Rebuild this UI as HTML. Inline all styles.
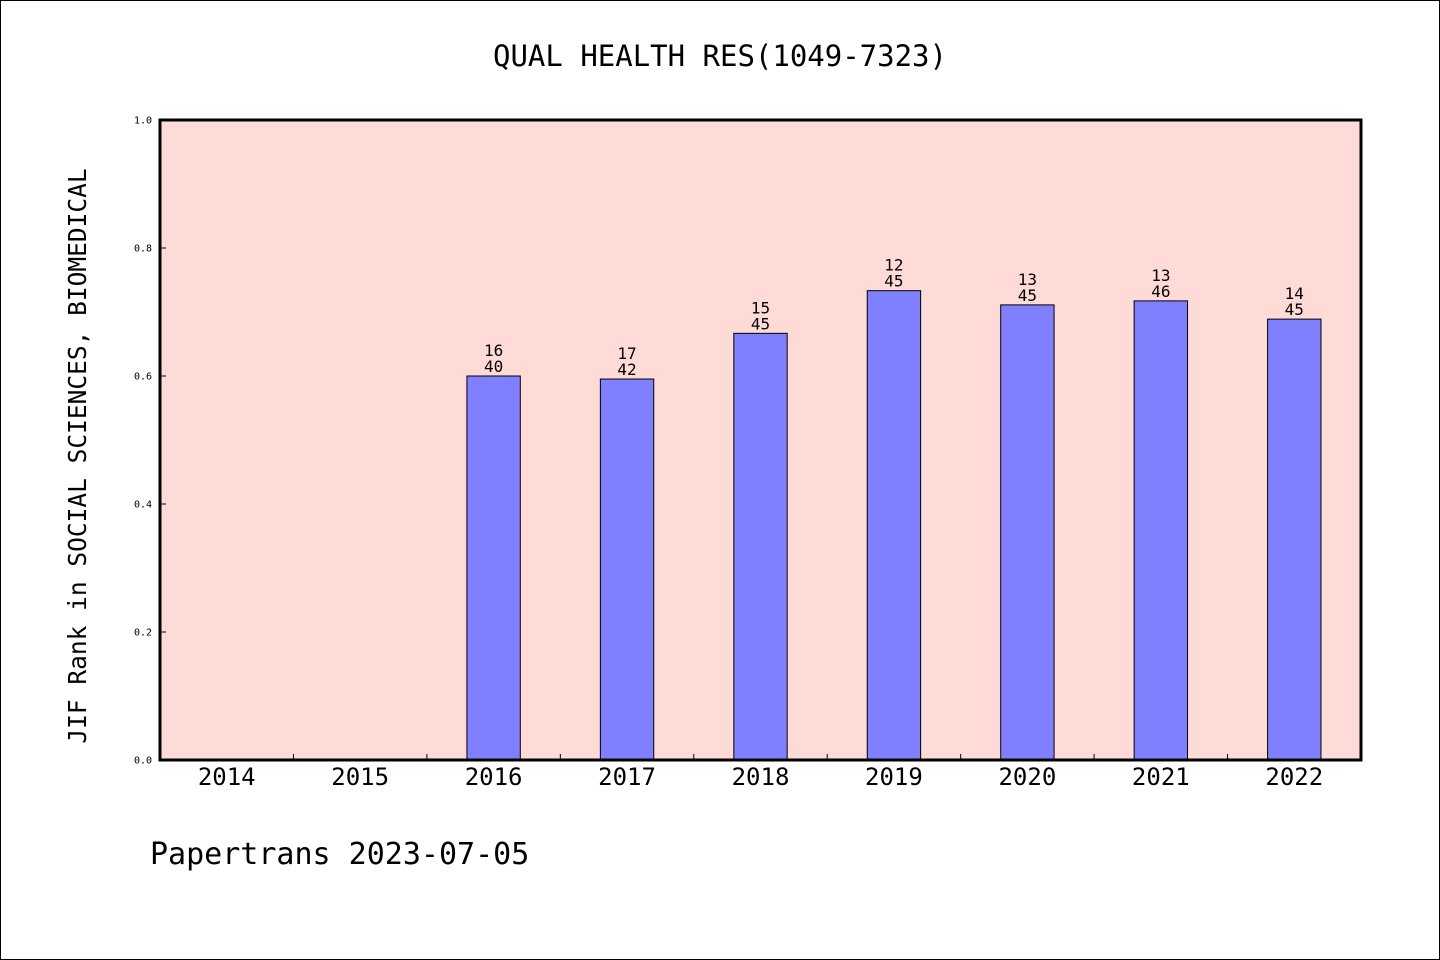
<!DOCTYPE html>
<html><head><meta charset="utf-8"><style>
html,body{margin:0;padding:0;background:#fff}
svg{display:block;font-family:"DejaVu Sans Mono","Liberation Mono",monospace}
</style></head><body>
<svg id="chart" width="1440" height="960">
<rect x="0.5" y="0.5" width="1439" height="959" fill="#fff" stroke="#000"/>
<text x="720" y="66" text-anchor="middle" font-size="29">QUAL HEALTH RES(1049-7323)</text>
<rect x="160" y="120" width="1201" height="640" fill="#ffdbd8"/>
<g id="bars"></g>
<rect x="160" y="120" width="1201" height="640" fill="none" stroke="#000" stroke-width="3"/>
<text transform="translate(86,456) rotate(-90)" text-anchor="middle" font-size="24.5">JIF Rank in SOCIAL SCIENCES, BIOMEDICAL</text>
<text x="150" y="864" font-size="30">Papertrans 2023-07-05</text>
</svg>
<script>
const categories = ["2014","2015","2016","2017","2018","2019","2020","2021","2022"];
const ranks = [null,null,16,17,15,12,13,13,14];
const totals = [null,null,40,42,45,45,45,46,45];
const yTicks = [0,0.2,0.4,0.6,0.8,1.0];
const yTickLabels = ["0.0","0.2","0.4","0.6","0.8","1.0"];

const NS="http://www.w3.org/2000/svg";
const X0=160,X1=1361,Y0=760,Y1=120;
const step=(X1-X0)/categories.length;
const xC=i=>X0+step*(i+0.5);
const yS=v=>Y0-(Y0-Y1)*v;
const svg=document.getElementById('chart');
const g=document.getElementById('bars');
function mk(t,a,p){const e=document.createElementNS(NS,t);for(const k in a)e.setAttribute(k,a[k]);(p||svg).appendChild(e);return e;}

yTicks.forEach((v,i)=>{
  const tk=mk('line',{x1:X0,x2:X0+6,y1:yS(v),y2:yS(v),stroke:'#000','stroke-width':1});
  
  
  const t=mk('text',{x:152,y:yS(v)+3.5,'text-anchor':'end','font-size':10});
  t.textContent=yTickLabels[i];
  
  
});
categories.forEach((c,i)=>{
  if(i>0){
    const tk=mk('line',{x1:X0+step*i,x2:X0+step*i,y1:Y0,y2:Y0-6,stroke:'#000','stroke-width':1});
    
    
  }
  const t=mk('text',{x:xC(i),y:785,'text-anchor':'middle','font-size':24});
  t.textContent=c;
  
  
  if(ranks[i]==null)return;
  const v=1-ranks[i]/totals[i];
  const w=step*0.4;
  const b=mk('rect',{x:xC(i)-w/2,y:yS(v),width:w,height:Y0-yS(v),fill:'#8080ff',stroke:'#000','stroke-width':1},g);
  
  
  const t1=mk('text',{x:xC(i),y:yS(v)-20,'text-anchor':'middle','font-size':16});
  t1.textContent=ranks[i];
  
  
  const t2=mk('text',{x:xC(i),y:yS(v)-4,'text-anchor':'middle','font-size':16});
  t2.textContent=totals[i];
  
  
});
</script>
</body></html>
